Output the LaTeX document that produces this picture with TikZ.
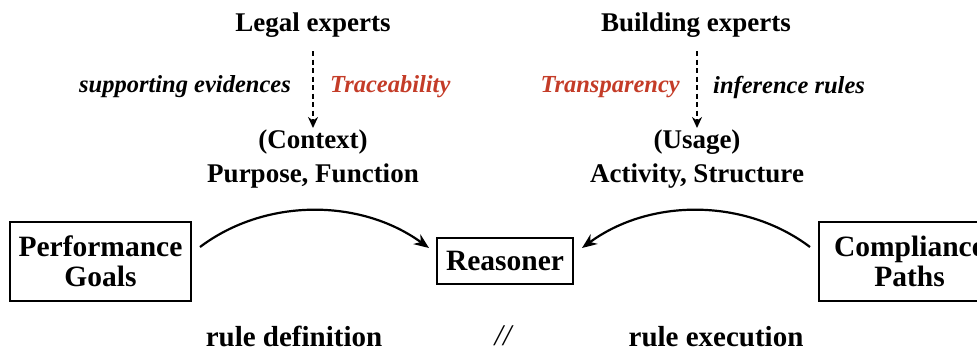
\documentclass[tikz,border=0pt]{standalone}
\usepackage{fontspec}
\setmainfont{Liberation Serif}
\usetikzlibrary{arrows.meta}
\definecolor{accent}{RGB}{196,60,40}
\begin{document}
\begin{tikzpicture}[x=1pt,y=-1pt,
  lab/.style={font=\bfseries\fontsize{27}{30}\selectfont, inner sep=0pt},
  ital/.style={font=\bfseries\itshape\fontsize{24.5}{28}\selectfont, inner sep=0pt},
  boxlab/.style={draw, line width=2pt, font=\bfseries\fontsize{29.5}{32}\selectfont, align=center, inner sep=0pt},
  bot/.style={font=\bfseries\fontsize{29}{32}\selectfont, inner sep=0pt, anchor=base},
  dasharrow/.style={line width=2.3pt, dash pattern=on 5pt off 3.5pt, -{Stealth[length=11pt,width=10pt]}},
  arc/.style={line width=2.2pt, -{Stealth[length=15pt,width=12pt]}}]
\useasboundingbox (0,0) rectangle (977,349);
% top labels
\node[lab] (legal) at (313,25) {Legal experts};
\node[lab] (build) at (696,25) {Building experts};
\node[ital, anchor=east] (supp) at (291,87) {supporting evidences};
\node[ital, anchor=west, text=accent] (trace) at (330,87) {Traceability};
\node[ital, anchor=east, text=accent] (transp) at (680,87) {Transparency};
\node[ital, anchor=west] (infer) at (713,87) {inference rules};
% context / usage
\node[lab] (ctx) at (313,142) {(Context)};
\node[lab] (pf) at (313,176) {Purpose, Function};
\node[lab] (usage) at (697,142) {(Usage)};
\node[lab] (as) at (697,176) {Activity, Structure};
% dashed arrows
\coordinate (l1) at (313,51);
\coordinate (l2) at (313,128);
\coordinate (r1) at (697,51);
\coordinate (r2) at (697,128);
\draw[dasharrow] (l1) -- (l2);
\draw[dasharrow] (r1) -- (r2);
% boxes
\node[boxlab, minimum width=181pt, minimum height=79pt] (pg) at (100.5,261.5) {Performance\\[-2pt]Goals};
\node[boxlab, minimum width=136pt, minimum height=46pt] (rs) at (505,261) {Reasoner};
\node[boxlab, minimum width=181pt, minimum height=79pt] (cp) at (909.5,261.5) {Compliance\\[-2pt]Paths};
% arcs
\coordinate (a1) at (200,247);
\coordinate (a2) at (429,248);
\coordinate (b1) at (810,247);
\coordinate (b2) at (582,248);
\draw[arc] (a1) .. controls (265,198) and (360,198) .. (a2);
\draw[arc] (b1) .. controls (745,198) and (650,198) .. (b2);
% bottom
\node[bot] (rd) at (294,346) {rule definition};
\node[font=\itshape\fontsize{30}{32}\selectfont, inner sep=0pt, anchor=base] (sl) at (503,345) {//};
\node[bot] (re) at (716,346) {rule execution};
\end{tikzpicture}
\end{document}
